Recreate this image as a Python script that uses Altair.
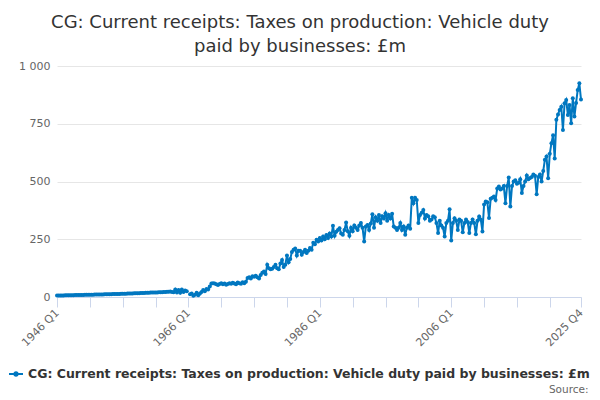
import altair as alt
import pandas as pd

SERIES = "CG: Current receipts: Taxes on production: Vehicle duty paid by businesses: £m"

# Quarterly values (£m), Q1..Q4 per year
v1940s = [7, 7, 7, 7,  7, 8, 8, 8,  8, 8, 8, 9,  9, 9, 9, 9]
v1950s = [9, 10, 10, 10,  10, 10, 10, 11,  11, 11, 11, 11,  11, 12, 12, 12,
          12, 12, 13, 13,  13, 13, 13, 14,  14, 14, 14, 15,  15, 15, 15, 16,
          16, 16, 16, 17,  17, 17, 18, 18]
v1960s = [18, 19, 19, 20,  20, 20, 21, 21,  21, 22, 22, 23,  23, 24, 22, 21,
          33, 20, 30, 18,  32, 22, 28, 25,  None, 12, 15, 5,  10, 18, 8, 15,
          22, 30, 25, 35,  32, 45, 58, 60]
v1970s = [58, 55, 52, 56,  60, 55, 58, 53,  56, 60, 57, 62,  58, 55, 63, 60,
          57, 64, 60, 66,  82, 85, 80, 90,  88, 92, 85, 80,  95, 105, 110, 100,
          140, 125, 120, 122,  130, 140, 125, 120]
v1980s = [145, 160, 130, 140,  180, 150, 165, 195,  205, 210, 180, 200,  200, 183, 195, 205,
          190, 200, 212, 205,  235, 228, 248, 240,  255, 245, 262, 250,  268, 255, 275, 262,
          308, 265, 282, 290,  298, 275, 270, 290]
v1990s = [322, 285, 265, 300,  285, 310, 300, 290,  310, 320, 300, 240,  305, 312, 290, 318,
          358, 300, 345, 330,  355, 320, 350, 340,  363, 330, 355, 340,  360, 305, 300, 290,
          300, 320, 290, 305,  270, 300, 310, 295]
v2000s = [430, 406, 430, 420,  320, 355, 365, 377,  340, 355, 350, 330,  335, 350, 345, 320,
          277, 330, 310, 300,  262, 320, 330, 380,  245, 320, 341, 330,  290, 335, 330, 280,
          320, 335, 325, 277,  320, 335, 320, 272]
v2010s = [330, 349, 335, 284,  400, 413, 410, 342,  425, 430, 435, 420,  470, 478, 465, 470,
          480, 406, 480, 517,  392, 480, 500, 505,  490, 495, 510, 450,  480, 500, 526, 510,
          515, 520, 530, 525,  445, 520, 530, 500]
v2020s = [545, 594, 608, 514,  620, 666, 700, 600,  767, 790, 810, 824,  723, 839, 853, 788,
          831, 752, 860, 781,  840, 896, 925, 855]

first_year, last_year = 1946, 2025
quarters = [f"{y} Q{q}" for y in range(first_year, last_year + 1) for q in range(1, 5)]
values = v1940s + v1950s + v1960s + v1970s + v1980s + v1990s + v2000s + v2010s + v2020s

tick_values = [f"{y} Q1" for y in range(1946, 2025, 5)] + ["2025 Q4"]
tick_labels = ["1946 Q1", "1966 Q1", "1986 Q1", "2006 Q1", "2025 Q4"]
y_ticks = [0, 250, 500, 750, 1000]

df = pd.DataFrame({"quarter": quarters, "value": values, "series": SERIES})

BLUE = "#0077c0"
label_list = "[" + ",".join(f"'{t}'" for t in tick_labels) + "]"

chart = alt.Chart(df).mark_line(
    strokeWidth=2,
    point=alt.OverlayMarkDef(filled=True, size=16),
).encode(
    x=alt.X(
        "quarter:O",
        sort=None,
        scale=alt.Scale(type="point", padding=0),
        axis=alt.Axis(
            values=tick_values,
            labelExpr=f"indexof({label_list}, datum.value) >= 0 ? datum.value : ''",
            labelAngle=-45,
            labelAlign="right",
            labelBaseline="middle",
            labelOverlap=False,
            labelPadding=4,
            labelColor="#666666",
            labelFontSize=11,
            labelFont="DejaVu Sans",
            tickColor="#ccd6eb",
            tickSize=10,
            domainColor="#ccd6eb",
            grid=False,
            title="Source:",
            titleFont="DejaVu Sans",
            titleFontSize=10.5,
            titleFontWeight="normal",
            titleColor="#666666",
            titleAlign="right",
            titleAnchor="end",
            titleBaseline="alphabetic",
            titleX=531,
            titleY=95,
        ),
    ),
    y=alt.Y(
        "value:Q",
        scale=alt.Scale(domain=[0, 1000], nice=False),
        axis=alt.Axis(
            values=y_ticks,
            labelExpr="replace(format(datum.value, ','), ',', ' ')",
            labelColor="#666666",
            labelFontSize=11,
            labelFont="DejaVu Sans",
            labelPadding=7,
            gridColor="#e6e6e6",
            domain=False,
            ticks=False,
            title=None,
        ),
    ),
    color=alt.Color(
        "series:N",
        scale=alt.Scale(domain=[SERIES], range=[BLUE]),
        legend=alt.Legend(
            orient="none",
            legendX=-49,
            legendY=300,
            title=None,
            symbolType="M-1,0L1,0M-0.25,0A0.25,0.25 0 1,0 0.25,0A0.25,0.25 0 1,0 -0.25,0",
            symbolSize=196,
            symbolStrokeWidth=2,
            symbolFillColor=BLUE,
            symbolStrokeColor=BLUE,
            labelFont="DejaVu Sans",
            labelFontSize=12.5,
            labelFontWeight="bold",
            labelColor="#333333",
            labelLimit=700,
        ),
    ),
).properties(
    width=524,
    height=231,
    autosize=alt.AutoSizeParams(type="none"),
    padding={"left": 49, "top": 58, "right": 11, "bottom": 103},
    title=alt.TitleParams(
        text=["CG: Current receipts: Taxes on production: Vehicle duty",
              "paid by businesses: £m"],
        font="DejaVu Sans",
        fontSize=18,
        fontWeight="normal",
        color="#333333",
        anchor="middle",
        frame="group",
        dx=-19,
        lineHeight=24,
    ),
).configure_view(stroke=None)

chart.save("out.html", embed_options={"renderer": "svg", "actions": False})
